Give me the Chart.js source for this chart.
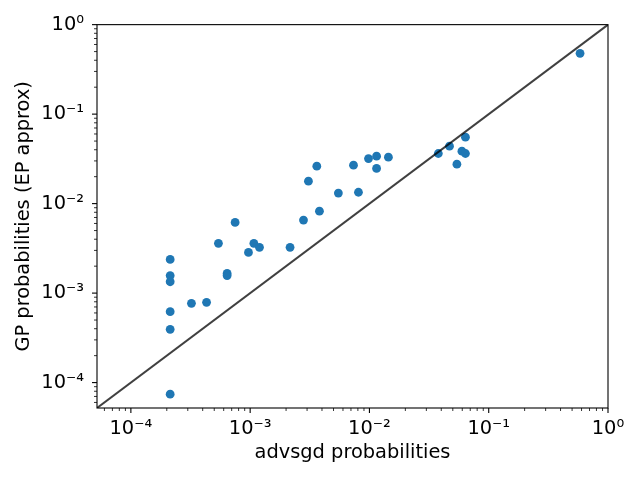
<!DOCTYPE html>
<html>
<head>
<meta charset="utf-8">
<script src="https://cdn.jsdelivr.net/npm/chart.js@4.4.1/dist/chart.umd.min.js"></script>
<style>
  html, body { margin: 0; padding: 0; background: #fff; }
  canvas { display: block; }
</style>
</head>
<body>
<canvas id="chart" width="640" height="480"></canvas>
<script>
// advsgd probability vs GP (EP approx) probability
const advsgdProbs = [
  0.583, 0.0638, 0.0469, 0.0378, 0.0596, 0.0638, 0.0541,
  0.01442, 0.01148, 0.00982, 0.01148, 0.00735, 0.00362, 0.00308,
  0.00549, 0.00809, 0.00381, 0.0028, 0.00216,
  0.000748, 0.000542, 0.001074, 0.001197, 0.000968, 0.000641, 0.000641,
  0.0002135, 0.0002135, 0.0002135, 0.0002135, 0.0002135, 0.0002135,
  0.000322, 0.000431,
];
const gpProbs = [
  0.478, 0.0552, 0.0438, 0.0363, 0.0385, 0.0363, 0.0276,
  0.0330, 0.0339, 0.0319, 0.0247, 0.0269, 0.0262, 0.0178,
  0.0131, 0.0134, 0.00824, 0.00655, 0.00325,
  0.00617, 0.0036, 0.0036, 0.00325, 0.00285, 0.00166, 0.00157,
  0.00238, 0.00157, 0.00134, 0.00062, 0.000394, 0.0000743,
  0.000769, 0.000789,
];
// y = x reference line and axis limits
const axisMin = 5.2e-5;
const axisMax = 1;
const diagX = [axisMin, axisMax];
const diagY = [axisMin, axisMax];

const FONT = 'DejaVu Sans';
const FSIZE = 19.4;
const SUP = { '-': '\u207b', '0': '\u2070', '1': '\u00b9', '2': '\u00b2', '3': '\u00b3',
  '4': '\u2074', '5': '\u2075', '6': '\u2076', '7': '\u2077', '8': '\u2078', '9': '\u2079' };

function powLabel(value) {
  const l = Math.log10(value);
  const r = Math.round(l);
  if (Math.abs(l - r) > 1e-6) return '';
  return '10' + String(r).split('').map(c => SUP[c]).join('');
}

// frame + matplotlib style major/minor tick marks
const frameTicks = {
  id: 'frameTicks',
  afterDraw(chart) {
    const { ctx, chartArea: a } = chart;
    ctx.save();
    ctx.strokeStyle = '#000';
    ctx.lineWidth = 1.1;
    ctx.strokeRect(a.left, a.top, a.right - a.left, a.bottom - a.top);
    const xs = chart.scales.x, ys = chart.scales.y;
    for (let e = -5; e <= 0; e++) {
      for (let m = 1; m <= 9; m++) {
        const v = m * Math.pow(10, e);
        if (v < axisMin || v > axisMax * 1.0001) continue;
        const len = m === 1 ? 5 : 3;
        ctx.lineWidth = m === 1 ? 1.1 : 0.8;
        const px = xs.getPixelForValue(v);
        ctx.beginPath();
        ctx.moveTo(px, a.bottom);
        ctx.lineTo(px, a.bottom + len);
        ctx.stroke();
        const py = ys.getPixelForValue(v);
        ctx.beginPath();
        ctx.moveTo(a.left, py);
        ctx.lineTo(a.left - len, py);
        ctx.stroke();
      }
    }
    ctx.restore();
  }
};

const ctx = document.getElementById('chart').getContext('2d');
new Chart(ctx, {
  type: 'scatter',
  data: {
    datasets: [
      {
        data: diagX.map((x, i) => ({ x, y: diagY[i] })),
        showLine: true,
        borderColor: 'rgba(0,0,0,0.75)',
        borderWidth: 2,
        pointRadius: 0,
        order: 0,
      },
      {
        data: advsgdProbs.map((x, i) => ({ x, y: gpProbs[i] })),
        backgroundColor: '#1f77b4',
        borderWidth: 0,
        pointRadius: 4.4,
        order: 1,
      },
    ],
  },
  options: {
    responsive: false,
    animation: false,
    devicePixelRatio: 1,
    layout: { padding: { left: 0, right: 32, top: 24, bottom: 0 } },
    plugins: {
      legend: { display: false },
      tooltip: { enabled: false },
    },
    scales: {
      x: {
        type: 'logarithmic',
        min: axisMin,
        max: axisMax,
        grid: { display: false, drawTicks: false },
        border: { display: false },
        ticks: {
          autoSkip: false,
          maxRotation: 0,
          padding: 9,
          color: '#000',
          font: { family: FONT, size: FSIZE },
          callback: (value) => powLabel(value),
        },
        title: {
          display: true,
          text: 'advsgd probabilities',
          color: '#000',
          font: { family: FONT, size: FSIZE },
          padding: { top: 0, bottom: 15 },
        },
        afterFit: (scale) => { scale.height = 72; },
      },
      y: {
        type: 'logarithmic',
        min: axisMin,
        max: axisMax,
        grid: { display: false, drawTicks: false },
        border: { display: false },
        ticks: {
          autoSkip: false,
          padding: 13,
          color: '#000',
          font: { family: FONT, size: FSIZE },
          callback: (value) => powLabel(value),
        },
        title: {
          display: true,
          text: 'GP probabilities (EP approx)',
          color: '#000',
          font: { family: FONT, size: FSIZE },
          padding: { top: 12, bottom: 0 },
        },
        afterFit: (scale) => { scale.width = 97; },
      },
    },
  },
  plugins: [frameTicks],
});
</script>
</body>
</html>
